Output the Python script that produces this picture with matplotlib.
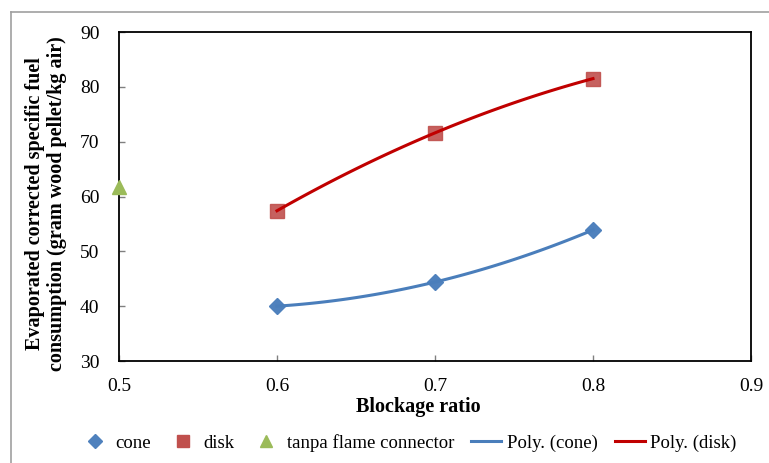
import numpy as np
import matplotlib
matplotlib.use('Agg')
import matplotlib.pyplot as plt
from matplotlib.lines import Line2D

# data
ratio = [0.6, 0.7, 0.8]
cone = [40.0, 44.4, 53.9]
disk = [57.4, 71.6, 81.5]
tanpa_x = [0.5]
tanpa_y = [61.7]

plt.rcParams['font.family'] = ['Liberation Serif', 'DejaVu Serif']

fig = plt.figure(figsize=(7.69, 4.63), dpi=100)
ax = fig.add_axes([119 / 769, 1 - 361 / 463, 632 / 769, 329 / 463])

# polynomial (order 2) trendlines, as Excel draws them
xs = np.linspace(0.6, 0.8, 100)
p_cone = np.polyfit(ratio, cone, 2)
p_disk = np.polyfit(ratio, disk, 2)

ax.plot(ratio, cone, 'D', color='#4F81BD', ms=8, ls='none', zorder=3)
ax.plot(ratio, disk, 's', color='#C0504D', ms=10, ls='none', alpha=0.9, zorder=3)
ax.plot(tanpa_x, tanpa_y, '^', color='#9BBB59', ms=10, ls='none', clip_on=False, zorder=4)
ax.plot(xs, np.polyval(p_cone, xs), color='#4A7EBB', lw=2.2, zorder=4)
ax.plot(xs, np.polyval(p_disk, xs), color='#C00000', lw=2.2, zorder=4)

ax.set_xlim(0.5, 0.9)
ax.set_ylim(30, 90)
ax.set_xticks([0.5, 0.6, 0.7, 0.8, 0.9])
ax.set_yticks([30, 40, 50, 60, 70, 80, 90])
ax.tick_params(direction='in', length=4, width=1, color='#808080', labelsize=14)
ax.tick_params(axis='y', pad=14)
ax.tick_params(axis='x', pad=12)
for s in ax.spines.values():
    s.set_linewidth(1.3)
    s.set_color('black')

fig.text(418 / 769, 1 - 407 / 463, 'Blockage ratio', ha='center', va='center',
         fontsize=14.5, fontweight='bold')
fig.text(46 / 769, 1 - 204 / 463,
         'Evaporated corrected specific fuel\nconsumption (gram wood pellet/kg air)',
         ha='center', va='center', rotation=90, fontsize=14.5, fontweight='bold',
         linespacing=1.1)

handles = [
    Line2D([], [], marker='D', color='#4F81BD', ls='none', ms=7),
    Line2D([], [], marker='s', color='#C0504D', ls='none', ms=9),
    Line2D([], [], marker='^', color='#9BBB59', ls='none', ms=9),
    Line2D([], [], color='#4A7EBB', lw=2.2),
    Line2D([], [], color='#C00000', lw=2.2),
]
labels = ['cone', 'disk', 'tanpa flame connector', 'Poly. (cone)', 'Poly. (disk)']
fig.legend(handles, labels, loc='center', bbox_to_anchor=(408 / 769, 1 - 443 / 463),
           ncol=5, frameon=False, fontsize=13.5, handlelength=1.6, handletextpad=0.3,
           columnspacing=0.9)

# outer chart frame (gray, open on right and bottom)
fig.add_artist(Line2D([11 / 769, 1], [1 - 12 / 463, 1 - 12 / 463], color='#A0A0A0', lw=1.2))
fig.add_artist(Line2D([11 / 769, 11 / 769], [0, 1 - 12 / 463], color='#A0A0A0', lw=1.2))

fig.savefig('out.png', dpi=100)
